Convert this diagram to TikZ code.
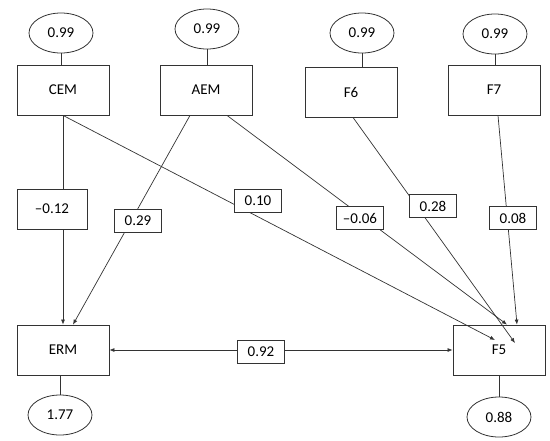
\documentclass[tikz,border=0pt]{standalone}
\usepackage{fontspec}
\setmainfont{Carlito}
\usetikzlibrary{positioning, calc, arrows.meta, shapes.geometric}
\definecolor{Ink}{HTML}{333333}
\tikzset{
    varbox/.style={rectangle, draw=Ink, line width=0.8pt, fill=white, minimum width=92pt, minimum height=50pt, inner sep=0pt, font=\fontsize{15}{18}\selectfont},
    errnode/.style={ellipse, draw=Ink, line width=0.8pt, fill=white, minimum width=64pt, minimum height=40pt, inner sep=0pt, font=\fontsize{15}{18}\selectfont},
    coefbox/.style={rectangle, draw=Ink, line width=0.8pt, fill=white, minimum width=47pt, minimum height=23pt, inner sep=0pt, font=\fontsize{15}{18}\selectfont},
    path/.style={-{Latex[length=5pt, width=4pt]}, line width=0.7pt, color=Ink},
    both/.style={{Latex[length=5pt, width=4pt]}-{Latex[length=5pt, width=4pt]}, line width=0.7pt, color=Ink},
    link/.style={line width=0.7pt, color=Ink},
}

\begin{document}
\begin{tikzpicture}[x=1pt, y=-1pt]
    \useasboundingbox (0,0) rectangle (550,440);

    % --- Variabili osservate (riga alta)
    \node[varbox] (CEM) at (63, 90) {CEM};
    \node[varbox] (AEM) at (206, 90) {AEM};
    \node[varbox] (F6) at (351, 92) {F6};
    \node[varbox] (F7) at (494, 90) {F7};

    % --- Errori (riga alta)
    \node[errnode] (eCEM) at (61, 33) {0.99};
    \node[errnode] (eAEM) at (207, 29) {0.99};
    \node[errnode] (eF6) at (362, 33) {0.99};
    \node[errnode] (eF7) at (495, 34) {0.99};

    % --- Variabili dipendenti (riga bassa)
    \node[varbox] (ERM) at (63, 350) {ERM};
    \node[varbox] (F5) at (499, 350) {F5};
    \node[errnode] (eERM) at (60, 415) {1.77};
    \node[errnode] (eF5) at (499, 417) {0.88};

    % Collegamenti errori
    \foreach \e/\v in {eCEM/CEM, eAEM/AEM, eF6/F6, eF7/F7} {
        \draw[link] (\e.south) -- (\e.south |- \v.north);
    }
    \draw[link] (eERM.north |- ERM.south) -- (eERM.north);
    \draw[link] (eF5.north |- F5.south) -- (eF5.north);

    % Punti d'arrivo dentro F5
    \coordinate (F5a) at ([xshift=-4pt, yshift=10pt]F5.center);
    \coordinate (F5b) at ([xshift=8pt]F5.north);
    \coordinate (F5c) at ([xshift=16pt, yshift=7pt]F5.center);
    \coordinate (F5d) at ([xshift=18pt]F5.north);

    % --- Percorsi
    \draw[path] (CEM.south) -- (ERM.north);
    \draw[path] ([xshift=-16pt]AEM.south) -- ([xshift=10pt]ERM.north);
    \draw[path] (CEM.south) -- (F5a);
    \draw[path] ([xshift=21pt]AEM.south) -- (F5b);
    \draw[path] ([xshift=2pt]F6.south) -- (F5c);
    \draw[path] ([xshift=4pt]F7.south) -- (F5d);
    \draw[both] (ERM.east) -- (F5.west);

    % --- Coefficienti
    \node[coefbox, minimum width=70pt, minimum height=40pt] (cCE) at (52, 209) {--0.12};
    \node[coefbox] (cAE) at (138, 221) {0.29};
    \node[coefbox] (cCF) at (258, 201) {0.10};
    \node[coefbox] (cAF) at (360, 218) {--0.06};
    \node[coefbox] (c6F) at (433, 206) {0.28};
    \node[coefbox] (c7F) at (513, 218) {0.08};
    \node[coefbox] (cEF) at (261, 352) {0.92};

\end{tikzpicture}
\end{document}
